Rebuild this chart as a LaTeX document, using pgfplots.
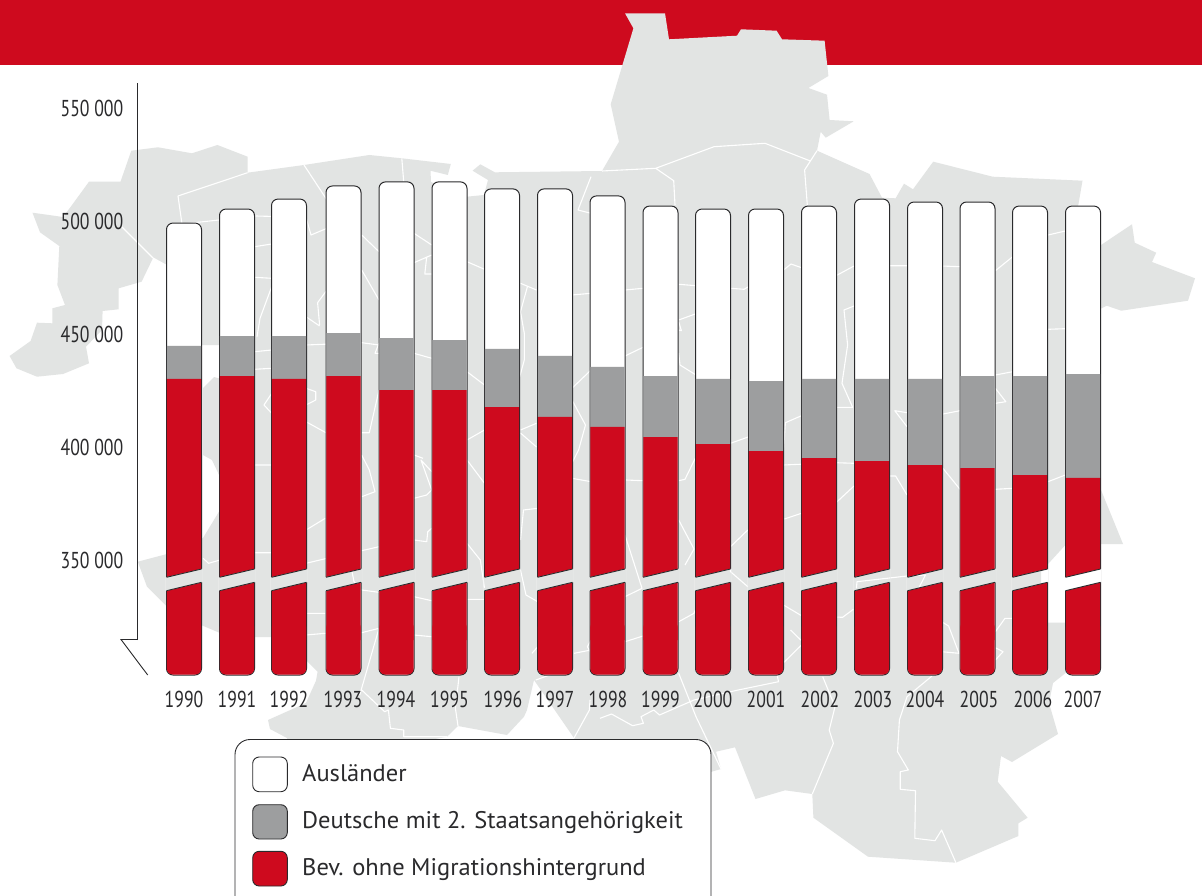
\documentclass[border=0pt]{standalone}
\usepackage{pgfplots}
\usepackage{pgfplotstable}
\usepackage{fontspec}
\pgfplotsset{compat=1.18}
\setmainfont{PT Sans}
\newfontfamily\tickfont{PT Sans}[FakeStretch=0.77]
\newfontfamily\legfont{PT Sans}[FakeStretch=1.02]
\definecolor{brandred}{HTML}{CE0A1E}
\definecolor{mapgray}{HTML}{E2E4E3}
\definecolor{bargray}{HTML}{9D9E9F}
\definecolor{ink}{HTML}{2A2A2C}
\pgfplotstableread{
x base low total gray red
184 299115 314602 499100 444700 430100
237 299115 314602 505300 449100 431400
289 299115 314602 509700 449100 430100
343.5 299115 314602 515500 450400 431400
396.5 299115 314602 517300 448200 425200
449.5 299115 314602 517300 447300 425200
502 299115 314602 514200 443400 417700
555 299115 314602 514200 440300 413300
607.5 299115 314602 511100 435400 408900
660.5 299115 314602 506600 431400 404400
713 299115 314602 505300 430100 401300
766 299115 314602 505300 429200 398200
819 299115 314602 506600 430100 395100
872 299115 314602 509700 430100 393800
925 299115 314602 508400 430100 392000
977.5 299115 314602 508400 431400 390700
1030 299115 314602 506600 431400 387600
1083 299115 314602 506600 432300 386300
}\bars
\pgfplotsset{common/.style={
  scale only axis, width=1064.2pt, height=557pt,
  at={(137.8pt,-640pt)}, anchor=south west,
  xmin=137.8, xmax=1202, ymin=314602, ymax=561063,
  clip=false, ybar stacked, bar shift=0pt, scaled y ticks=false},
  hiddenax/.style={common, hide axis}}
\newcommand{\drawmap}{%
  \fill[mapgray] (625,13.3)--(665,13.3)--(669,39.3)--(737,35.7)--(741,29.3)--(776.6,30.7)--(782,39.3)--(824.6,40.7)--(828.4,76)--(808.4,88)--(827,94.7)--(829.6,120)--(853.7,121.3)--(825.7,137.7)--(820.7,131.7)--(817,150.7)--(869.5,174)--(882,197.7)--(895.6,198.3)--(904,183.7)--(913,189.3)--(933.2,161.7)--(992.7,176.7)--(1082.5,180.7)--(1078,206.7)--(1085,245)--(1101,245)--(1132,224.3)--(1134.7,242.7)--(1156.2,252.7)--(1152,262)--(1195,278.3)--(1188,300.7)--(1121.3,310.7)--(1106.7,305.7)--(1098,310)--(1098,490)--(1101,490)--(1123,544)--(1066,544.3)--(1041,571.7)--(1041,581.7)--(1047,622.7)--(1085,622.7)--(1085,660)--(1065.6,673)--(1053,683)--(1049,703)--(1058,734)--(1012,762)--(1001,756)--(997.7,781.7)--(1027.6,817.7)--(1018.4,823.3)--(1018.4,836)--(955.9,862.7)--(868,856.7)--(813.4,817.7)--(812.3,794)--(785,790.3)--(755.5,799)--(735,747.3)--(716,751.7)--(721,769)--(700,775)--(600,780)--(574,738)--(534,680)--(527,710)--(524,716.7)--(507,735)--(458,726)--(447,736.7)--(403.7,745)--(287,745)--(287,738)--(270,729)--(268,720)--(306,703)--(316,680.7)--(317.6,671.7)--(306,660)--(271.7,637)--(254.5,637)--(220,633)--(201,625)--(167,606.7)--(147,586.7)--(137.8,561.7)--(167,554)--(203,538)--(220,510)--(230,495)--(230,470)--(220,477)--(212,460)--(203,455)--(203,388)--(214,377)--(225,380)--(225,345)--(195,345)--(185,300)--(167,265.7)--(153,258)--(141.6,281.7)--(118.6,288.3)--(118.6,309.3)--(102.6,311)--(102,330)--(86,346.7)--(89,363.3)--(63,374)--(37,376.7)--(16.5,368.3)--(9.6,356)--(30.6,341)--(37,322.7)--(52.4,323.3)--(52.4,308.3)--(65,305)--(57.4,285)--(59.3,246)--(40,232.3)--(32.5,212.7)--(63,217)--(70.8,206.7)--(89,181.7)--(120.5,181.7)--(131.3,150.7)--(158,147.3)--(192,153.3)--(217.4,145)--(247.6,156.7)--(247.6,172.7)--(304,165)--(369.3,155)--(401.8,158.3)--(450.8,164)--(447.8,175)--(430.5,170.7)--(431,182)--(467,196.7)--(484,195)--(488,180)--(472.6,170.7)--(480.3,164.3)--(494.8,172.3)--(602,171)--(619,141.7)--(610.7,104.3)--(633.4,28.3)--cycle;
  \draw[white,line width=1.1pt,line join=round]
  (247.6,172.7)--(178,196)--(182,224)--(256,216)--(306,217.3)--(311,235)--(327,228.3)
  (304,165)--(327,200)
  (401.8,158.3)--(403.7,181.7)
  (121.7,226.7)--(153,258)--(167,265.7)
  (361.7,235)--(379,251.7) (414,233.3)--(431.7,245) (431.7,255)--(414,262.7) (426.7,256.7)--(424.8,274)--(431.7,274)
  (254.5,246.7)--(271.7,244) (254.5,277.3)--(271.7,278.3) (271.7,286.7)--(260,318.3)--(257,336.7)
  (361.7,270)--(379,300) (327,290)--(317.6,302.7)--(319.6,325) (306,316.7)--(319.6,326)
  (467,261.7)--(484.5,269.3) (520.5,283.3)--(536.5,290) (527.4,286.7)--(520.5,311.7)--(524.3,333.3)--(524.3,360)--(519.7,376.7)
  (254.5,351.7)--(271.7,350) (306,345)--(361.7,342.7)--(379,345) (414,353.3)--(431.7,358.3) (254.5,369.3)--(271.7,368.3)
  (379,343)--(375,353.3)--(379,353.3)
  (467,371.7)--(484.5,385) (572,388.3)--(591,370) (572,295)--(591,293.3) (572,400)--(585.5,425)--(578.6,450)--(572,463)
  (467,440)--(484.5,430) (520.5,430)--(536.5,423.3) (520.5,433)--(536.5,447)
  (306,388.3)--(315.7,391.7)--(315.7,400)--(306,405) (271.7,393.3)--(264,405)--(271.7,413.3)
  (306,421.7)--(327,433.3) (361.7,432.7)--(369.3,432.7)--(379,390) (591,176.7)--(578,210)--(591,213.3)
  (602,171)--(655.7,168.3)--(673.7,180.7)--(675,205)
  (655.7,168.3)--(714,146.7)--(765,143.3)--(810.4,161)--(817,150.7)
  (810.4,161)--(804.6,170)--(807.3,205)
  (625,290)--(643,288.3) (678.7,284.3)--(696,285.7) (730.5,288.3)--(744,289.3)--(749.7,286) (783.5,270)--(791,264)--(801.5,267.7)
  (836,275.7)--(854,266) (888.7,265.7)--(907,265.7) (941.6,266)--(960,266.7) (995.4,270.7)--(1012.7,256.7) (1048,235)--(1065.3,231)
  (625,356)--(643,347.3) (678.7,320)--(695.2,314) (678.7,321.7)--(681.4,330.7)--(678.7,330)
  (678.7,353.3)--(680,365)--(696,375)
  (854,306)--(844,310)--(847.6,345)--(842,383.3)--(852.6,407.3)--(836,407.3)
  (1048,329.3)--(1065.3,328.7) (995.4,375)--(1012.7,371.7) (995.4,388.3)--(1005.8,401.7)--(995.4,403.3)
  (907,426.7)--(894.8,410.7)--(907,412.7) (941.6,414.3)--(960,410.7)
  (730.5,443.3)--(749,436.7) (801.5,415.7)--(785.4,422.7)--(783.5,450)
  (783.5,465)--(836,462.7)--(854,463.3) (888.7,476)--(895.6,476)--(907,495)
  (941.6,466.7)--(960,489.3)--(995.4,489.3)--(1012.7,488.3) (1048,481.7)--(1065.3,475)
  (854,486)--(836,502.7) (801.5,513.3)--(784.3,519)
  (747.8,530)--(730.5,546.7)--(730.5,571.7)--(747.8,586.7)
  (695.2,458.3)--(685,479.3)--(678.7,480.7) (626,480)--(643,480.7)
  (678.7,520)--(694,549)--(685,565) (625,535)--(642,588.3)--(625,596.7)
  (678.7,621.7)--(694,613.3)--(695.2,610) (625,641.7)--(643,636)
  (783.5,605)--(801.5,615.7)--(842.6,617.3)--(853.4,609.3)
  (856.4,588.3)--(857,581.7)--(907,576)--(925.5,575)--(918.6,588.3)
  (790.5,630)--(801.5,640.7) (801.5,645)--(783.5,662.7)
  (941.6,621.7)--(948.6,626)--(959,653.3)--(941.6,651.7)
  (995.4,631.7)--(1005,618.3)--(1012.7,618.3) (995.4,660)--(1003,651.7)--(995.4,647.7)
  (678.7,673.3)--(696,716.7)--(721,769)
  (694,700)--(738.2,690)--(778.5,681.7)--(777.4,676)
  (600,718.3)--(611.5,714)--(632.6,725.7)--(643.4,723.3)--(641,716.7)--(653.7,710)--(659.5,715)--(694,700)
  (822.7,676.7)--(835,706.7)--(829.2,730)--(833.4,743.3)--(812.3,794)
  (932,676)--(907,696.7)--(899.4,720)--(897.5,751.7)--(908.3,770)--(900.2,771.7)--(900.2,789.3)--(915.5,790.7)--(914.8,838.3)--(935,840.7)--(941.6,830)--(955.9,862.7)
  (254.5,465)--(271.7,465) (306,530)--(325.3,518.3)
  (361.7,496.7)--(375,491.7)--(369.3,470)--(361.7,455)
  (414,498.3)--(426.7,495)--(431.7,490)--(421,460)--(431.7,471.7) (414,455)--(423,458.3)
  (467,460)--(484.5,483.3) (520.5,540)--(523.5,510)--(537.7,508.3)
  (414,540)--(426.7,541.7)--(427.8,531.7)--(431.7,528.3)
  (361.7,550.7)--(379,546.7) (203,558.3)--(208.6,563.3)--(220,560)
  (254.5,552.7)--(271.7,552.7) (306,563.3)--(327,558.3)
  (352,571.7)--(354,581.7)--(361.7,590)--(379,592.3)
  (414,596.7)--(431.7,600.7)--(467,599.3)--(484.5,599.3)
  (467,543.3)--(480.3,560)--(484.5,588) (520.5,570)--(526,595)--(537.7,601.7)
  (306,613.3)--(325.3,613.3) (306,635)--(325.3,633.3)--(361.7,632.7)--(379,628.3)--(359.7,695)
  (414,635)--(431.7,636.7) (532,653.3)--(537.7,646.7) (574,653.3)--(591,650)
  (591,640)--(587.4,646.7)--(591,653.3)
  (459,676.7)--(455.4,708.3)--(458,726)
  (361.7,690)--(384.6,711.7)--(388.4,710)--(390.4,728.3)--(403.7,730)--(403.7,736.7)--(447,736.7)
  (574,738)--(589.4,710)--(590,700) (535.8,680)--(555,673) (572,478.3)--(600,483.3);
}
\begin{document}
\begin{tikzpicture}[x=1pt,y=-1pt]
\path[use as bounding box,clip] (0,0) rectangle (1202,896);
\fill[white] (0,0) rectangle (1202,896);
\fill[brandred] (0,0) rectangle (1202,65.5);
\drawmap
% white upper bars with the outline
\begin{axis}[common, font=\tickfont\fontsize{23}{26}\selectfont,
  axis y line=left, axis x line=bottom,
  x axis line style={draw=none}, y axis line style={draw=ink,line width=.9pt,-},
  major tick length=0pt,
  ytick={350000,400000,450000,500000,550000},
  yticklabels={350 000,400 000,450 000,500 000,550 000},
  yticklabel style={anchor=east,xshift=-11pt,text=ink},
  xtick={184,237,289,343,396,449.5,503,555,608,660.5,713,766,820,873,925,979,1033,1083},
  xticklabels={1990,1991,1992,1993,1994,1995,1996,1997,1998,1999,2000,2001,2002,2003,2004,2005,2006,2007},
  xticklabel style={anchor=center,yshift=-59pt,text=ink}]
\addplot[ybar stacked, draw=none, fill=none, bar width=35pt] table[x=x,y=base] {\bars};
\addplot[ybar stacked, draw=ink, line width=1pt, fill=white, bar width=35pt, rounded corners=6.5pt] table[x=x,y expr=\thisrow{total}-\thisrow{base}] {\bars};
\end{axis}
\begin{axis}[hiddenax]
\addplot[ybar stacked, draw=none, fill=none, bar width=34.4pt] table[x=x,y expr=\thisrow{base}+200] {\bars};
\addplot[ybar stacked, draw=none, fill=brandred, bar width=34.4pt, rounded corners=6pt] table[x=x,y expr=\thisrow{low}+8000-\thisrow{base}] {\bars};
\end{axis}
\begin{axis}[hiddenax]
\addplot[ybar stacked, draw=none, fill=none, bar width=34.4pt] table[x=x,y=low] {\bars};
\addplot[ybar stacked, draw=none, fill=brandred, bar width=34.4pt] table[x=x,y expr=\thisrow{red}-\thisrow{low}] {\bars};
\addplot[ybar stacked, draw=none, fill=bargray, bar width=34.4pt] table[x=x,y expr=\thisrow{gray}-\thisrow{red}] {\bars};
\end{axis}
% axis foot
\draw[ink,line width=.9pt,line join=miter] (137.8,639.5)--(121,639.5)--(147.7,675);
% the break through the bars shows the map behind them
\begin{scope}
\clip foreach \c in {184,237,289,343.5,396.5,449.5,502,555,607.5,660.5,713,766,819,872,925,977.5,1030,1083} { ({\c-18.5},577.5)--({\c+18.5},568.8)--({\c+18.5},582.1)--({\c-18.5},590.9)--cycle };
\fill[white] (0,0) rectangle (1202,896);
\drawmap
\end{scope}
\foreach \c in {184,237,289,343.5,396.5,449.5,502,555,607.5,660.5,713,766,819,872,925,977.5,1030,1083} {
  \draw[ink,line width=.9pt] ({\c-17.5},577.3)--({\c+17.5},569);
  \draw[ink,line width=.9pt] ({\c-17.5},590.7)--({\c+17.5},582.3);
}
% legend
\draw[ink,line width=.9pt,fill=white,rounded corners=15pt] (235,739.5) rectangle (711,912);
\draw[ink,line width=.9pt,fill=white,rounded corners=6.5pt] (252.7,757) rectangle (287.3,791.7);
\draw[ink,line width=.9pt,fill=bargray,rounded corners=6.5pt] (252.7,804.7) rectangle (287.3,839);
\draw[ink,line width=.9pt,fill=brandred,rounded corners=6.5pt] (252.7,851.3) rectangle (287.3,886);
\node[anchor=base west,inner sep=0pt,text=ink,font=\legfont\fontsize{24}{27}\selectfont] at (302,781) {Ausländer};
\node[anchor=base west,inner sep=0pt,text=ink,font=\legfont\fontsize{24}{27}\selectfont] at (302,828.7) {Deutsche mit 2. Staatsangehörigkeit};
\node[anchor=base west,inner sep=0pt,text=ink,font=\legfont\fontsize{24}{27}\selectfont] at (302,875.7) {Bev. ohne Migrationshintergrund};
\end{tikzpicture}
\end{document}
